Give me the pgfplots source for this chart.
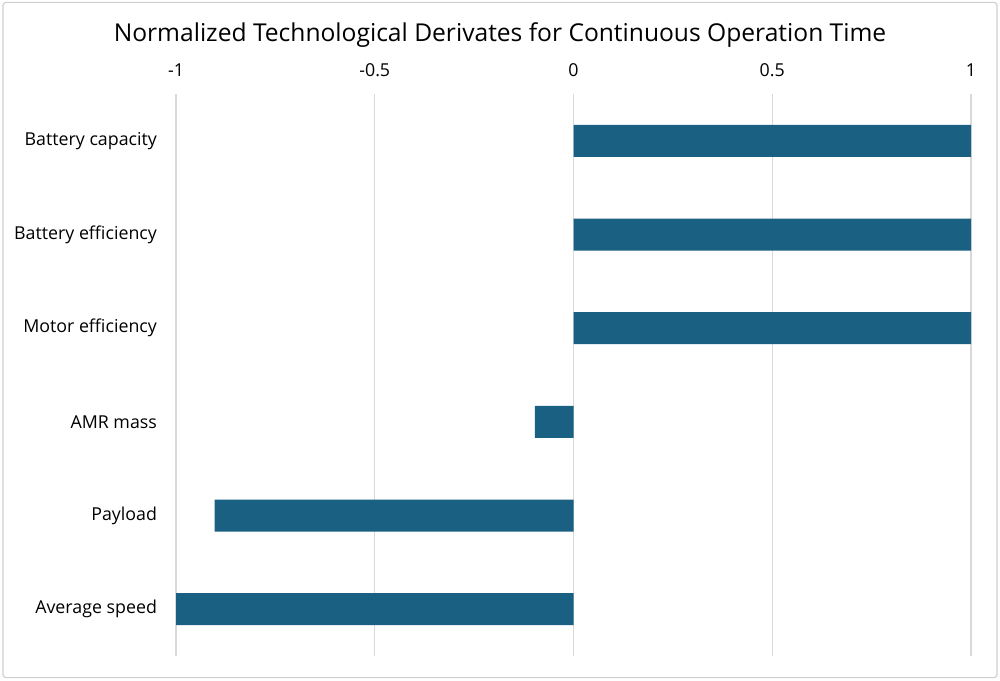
\documentclass[border=0pt]{standalone}
\usepackage{pgfplots}
\pgfplotsset{compat=1.18}
\usepackage{fontspec}
\setmainfont{Open Sans}
\definecolor{barblue}{HTML}{1A6083}
\definecolor{gridgray}{HTML}{D9D9D9}
\definecolor{framegray}{HTML}{D0D0D0}
\begin{document}
\begin{tikzpicture}
\useasboundingbox (0,0) rectangle (500pt,340pt);
\draw[framegray, line width=0.6pt, rounded corners=1.5pt] (1.5pt,1.2pt) rectangle (498.5pt,338.8pt);
\node[font=\fontsize{12.3}{14}\selectfont] at (250pt,322.5pt) {Normalized Technological Derivates for Continuous Operation Time};
\begin{axis}[
  at={(88pt,12pt)}, anchor=south west,
  scale only axis, width=397.5pt, height=281pt,
  xbar, bar width=16pt, bar shift=0pt,
  xmin=-1, xmax=1,
  ymin=-0.5, ymax=5.5,
  y dir=reverse,
  ytick={0,1,2,3,4,5},
  yticklabels={Battery capacity,Battery efficiency,Motor efficiency,AMR mass,Payload,Average speed},
  xtick={-1,-0.5,0,0.5,1},
  xticklabel pos=upper,
  /pgf/number format/assume math mode=true,
  axis line style={draw=none},
  major tick length=0pt,
  xmajorgrids, grid style={gridgray, line width=0.6pt},
  tick label style={font=\fontsize{8.9}{10}\selectfont, text=black},
  xticklabel style={yshift=5pt},
  yticklabel style={xshift=-6pt},
  clip=false,
]
\addplot[fill=barblue, draw=none] coordinates {
  (1,0) (1,1) (1,2) (-0.097,3) (-0.903,4) (-1,5)
};
\end{axis}
\end{tikzpicture}
\end{document}
